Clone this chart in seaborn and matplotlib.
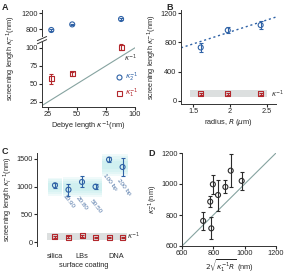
import numpy as np
import pandas as pd
import matplotlib
matplotlib.use('Agg')
import matplotlib.pyplot as plt
from matplotlib.lines import Line2D
import seaborn as sns

# panel A
debye = [28, 46, 88]
k2_A = [775, 915, 1050]
k2_A_err = [25, 20, 25]
k1_A = [57, 64, 101]
k1_A_err = [7, 3, 4]

# panel B
radius = [1.6, 1.97, 2.42]
k2_B = [730, 965, 1035]
k2_B_err = [60, 40, 55]
k1_B = [100, 100, 100]
k1_B_err = [15, 15, 15]
fit_R = [1.33, 2.63]
fit_B = [725, 1145]

# panel C
coatings = ['silica', '10:90', '20:80', '50:50', '100 bp', '200 bp']
k2_C = [1025, 945, 1085, 1000, 1490, 1355]
k2_C_err = [50, 110, 100, 50, 50, 160]
k1_C = [95, 90, 110, 85, 85, 80]
k1_C_err = [15, 15, 15, 12, 12, 12]
groups = ['silica', 'LBs', 'DNA']

# panel D
sqrt_term = [735, 787, 780, 797, 830, 877, 911, 981]
k2_D = [762, 714, 886, 998, 929, 981, 1086, 1020]
k2_D_err = [57, 70, 35, 62, 100, 42, 105, 60]

sns.set_style('ticks')
plt.rcParams['font.family'] = ['Liberation Sans', 'DejaVu Sans']
plt.rcParams['font.size'] = 5.3
plt.rcParams['xtick.labelsize'] = 5.3
plt.rcParams['ytick.labelsize'] = 5.3
plt.rcParams['axes.labelsize'] = 5.3
plt.rcParams['xtick.major.size'] = 2
plt.rcParams['ytick.major.size'] = 2
plt.rcParams['xtick.major.pad'] = 1.2
plt.rcParams['ytick.major.pad'] = 1.2
plt.rcParams['axes.labelpad'] = 1
plt.rcParams['axes.linewidth'] = 0.7
plt.rcParams['axes.edgecolor'] = '#333333'

blue = '#2f62a6'
red = '#b3282d'
gray_line = '#86a3a0'
band_gray = '#dcdfdf'
cyan = '#a8e6e6'
dark = '#333333'

W, H = 286, 273
fig = plt.figure(figsize=(W / 100, H / 100), dpi=100)


def box(l, t, r, b):
    return [l / W, 1 - b / H, (r - l) / W, (b - t) / H]


def points(ax, x, y, err, color, marker):
    ax.errorbar(x, y, yerr=err, fmt='none', ecolor=color, elinewidth=0.8,
                capsize=1.6, capthick=0.8, zorder=3)
    sns.scatterplot(x=x, y=y, ax=ax, marker=marker, s=13, facecolor='none',
                    edgecolor=color, linewidth=0.8, zorder=4, legend=False)


# ---------------- A ----------------
axAt = fig.add_axes(box(42, 10, 135, 36))
axA = fig.add_axes(box(42, 42, 135, 107))
points(axAt, debye, k2_A, k2_A_err, blue, 'o')
points(axA, debye, k1_A, k1_A_err, red, 's')
sns.lineplot(x=[20, 100], y=[20, 100], ax=axA, color=gray_line, linewidth=0.8)
for a in (axAt, axA):
    a.set_xlim(20, 100)
axAt.set_ylim(625, 1275)
axAt.set_yticks([800, 1200])
axAt.set_xticks([])
for s in ['top', 'right', 'bottom']:
    axAt.spines[s].set_visible(False)
axA.set_ylim(18, 108)
axA.set_yticks([25, 50, 75, 100])
axA.set_xticks([25, 50, 75, 100])
sns.despine(ax=axA)
axA.set_xlabel(r'Debye length $\kappa^{-1}$(nm)')
axA.set_ylabel('')
fig.text(11 / W, 1 - 58 / H, r'screening length $\kappa_i^{-1}$(nm)', rotation=90,
         ha='center', va='center', fontsize=5.3)
for dy in (0, 0.12):
    axAt.plot([-0.05, 0.05], [-0.18 - dy, -0.02 - dy], transform=axAt.transAxes,
              color=dark, lw=0.7, clip_on=False)
axA.text(96, 86, r'$\kappa^{-1}$', fontsize=5, color=dark, ha='center', va='center')
handles = [Line2D([], [], marker='o', ls='none', mfc='none', mec=blue, ms=3.6, mew=0.8),
           Line2D([], [], marker='s', ls='none', mfc='none', mec=red, ms=3.6, mew=0.8)]
axA.legend(handles, [r'$\kappa_2^{-1}$', r'$\kappa_1^{-1}$'], loc='center left',
           bbox_to_anchor=(0.76, 0.33), frameon=False, fontsize=5.3,
           labelcolor=[blue, red], handlelength=0.8, handletextpad=0.4,
           labelspacing=0.3, borderpad=0)

# ---------------- B ----------------
axB = fig.add_axes(box(181, 10, 276, 104))
axB.fill_between([1.45, 2.51], 50, 145, color=band_gray, lw=0, zorder=1)
sns.lineplot(x=fit_R, y=fit_B, ax=axB, color=blue, linestyle=(0, (1.5, 2)), linewidth=1)
points(axB, radius, k2_B, k2_B_err, blue, 'o')
points(axB, radius, k1_B, k1_B_err, red, 's')
axB.set_xlim(1.33, 2.63)
axB.set_ylim(-41, 1241)
axB.set_xticks([1.5, 2, 2.5])
axB.set_xticklabels(['1.5', '2', '2.5'])
axB.set_yticks([0, 400, 800, 1200])
sns.despine(ax=axB)
axB.set_xlabel(r'radius, $R$ ($\mu$m)')
axB.set_ylabel(r'screening length $\kappa_i^{-1}$(nm)')
axB.text(2.56, 97, r'$\kappa^{-1}$', fontsize=5, color=dark, va='center')

# ---------------- C ----------------
axC = fig.add_axes(box(37, 153, 130, 246))
pos = np.arange(len(coatings))


def glow(ax, x0, x1, y0, y1):
    cy, hy = (y0 + y1) / 2, (y1 - y0) / 2
    for f in (1.0, 0.8, 0.6, 0.4):
        ax.fill_between([x0, x1], cy - hy * f, cy + hy * f, color=cyan,
                        alpha=0.17, lw=0, zorder=1)


glow(axC, -0.54, 0.5, 832, 1163)
glow(axC, 0.57, 3.46, 820, 1170)
glow(axC, 3.5, 5.43, 1193, 1586)
axC.fill_between([-0.61, 5.3], 30, 170, color=band_gray, lw=0, zorder=1)
points(axC, pos, k2_C, k2_C_err, blue, 'o')
points(axC, pos, k1_C, k1_C_err, red, 's')
label_xy = [(1.0, 740), (2.0, 690), (3.05, 650), (4.07, 1072), (5.1, 1000)]
for name, (tx, ty) in zip(coatings[1:], label_xy):
    axC.text(tx, ty, name, rotation=-52, ha='center', va='center',
             fontsize=4.6, color='#4f74a6')
axC.text(5.35, 100, r'$\kappa^{-1}$', fontsize=5, color=dark, va='center')
axC.set_xlim(-1.33, 5.55)
axC.set_ylim(-72, 1608)
axC.set_yticks([0, 500, 1000, 1500])
axC.set_xticks([0, 2, 4.5])
axC.set_xticklabels(groups)
axC.tick_params(axis='x', length=0, pad=5)
sns.despine(ax=axC, bottom=True)
axC.set_xlabel('surface coating', labelpad=1.5)
axC.set_ylabel(r'screening length $\kappa_i^{-1}$(nm)', labelpad=0.5)

# ---------------- D ----------------
axD = fig.add_axes(box(182, 153, 276, 246))
sns.lineplot(x=[600, 1200], y=[600, 1200], ax=axD, color=gray_line, linewidth=0.8)
points(axD, sqrt_term, k2_D, k2_D_err, '#2b2b2b', 'o')
axD.set_xlim(600, 1200)
axD.set_ylim(600, 1200)
axD.set_xticks([600, 800, 1000, 1200])
axD.set_yticks([600, 800, 1000, 1200])
sns.despine(ax=axD)
axD.set_xlabel(r'$2\sqrt{\kappa_1^{-1}R}$ (nm)', labelpad=0)
axD.set_ylabel(r'$\kappa_2^{-1}$(nm)')

for letter, x, y in [('A', 2, 7), ('B', 166, 7), ('C', 2, 152), ('D', 148, 154)]:
    fig.text(x / W, 1 - y / H, letter, fontsize=6.5, fontweight='bold',
             ha='left', va='center')

fig.savefig('out.png', dpi=100)
